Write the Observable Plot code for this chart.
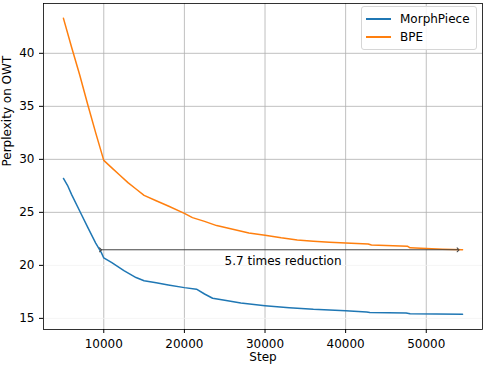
<!DOCTYPE html>
<html><head><meta charset="utf-8">
<script src="https://cdn.jsdelivr.net/npm/d3@7"></script>
<script src="https://cdn.jsdelivr.net/npm/@observablehq/plot@0.6"></script>
<style>
body{margin:0;background:#fff;font-family:"DejaVu Sans",sans-serif;}
#wrap{position:relative;width:484px;height:366px;}
.legend{position:absolute;left:361px;top:6px;width:114px;height:42px;border:1px solid #d6d6d6;border-radius:3px;background:rgba(255,255,255,0.85);font-size:12px;font-family:"DejaVu Sans",sans-serif;color:#000;}
.legend .row{position:absolute;left:4px;height:14px;display:flex;align-items:center;}
.legend .sw{width:25px;height:2px;margin-right:9px;}
</style></head><body><div id="wrap"></div>
<script>
const seriesNames = ["MorphPiece", "BPE"];
const seriesColors = ["#1f77b4", "#ff7f0e"];

const morphSteps = [5000, 5500, 6000, 7000, 8000, 9000, 9700, 10000, 11000, 12500, 14000, 15000, 16500, 18000, 20000, 21500, 22500, 23500, 25000, 27000, 30000, 33000, 36000, 40000, 42600, 43000, 47500, 48000, 54500];
const morphPpl  = [28.2, 27.55, 26.7, 25.15, 23.6, 22.1, 21.2, 20.7, 20.25, 19.5, 18.85, 18.55, 18.35, 18.15, 17.9, 17.75, 17.3, 16.9, 16.7, 16.45, 16.2, 16.0, 15.85, 15.73, 15.6, 15.55, 15.5, 15.43, 15.38];

const bpeSteps = [5000, 6000, 7000, 8000, 9000, 10000, 11000, 12000, 13000, 14000, 15000, 16500, 18000, 20000, 21000, 22500, 24000, 26000, 28000, 30000, 32000, 34000, 36000, 38000, 40000, 42800, 43200, 45000, 47700, 48000, 50000, 52000, 54500];
const bpePpl   = [43.3, 40.6, 38.0, 35.2, 32.5, 29.9, 29.2, 28.5, 27.8, 27.2, 26.6, 26.1, 25.6, 24.9, 24.5, 24.15, 23.75, 23.4, 23.05, 22.85, 22.6, 22.4, 22.28, 22.18, 22.1, 22.02, 21.92, 21.87, 21.8, 21.65, 21.6, 21.53, 21.47];

const xTicks = [10000, 20000, 30000, 40000, 50000];
const yTicks = [15, 20, 25, 30, 35, 40];
const yGridStrong = [25, 30, 35, 40];
const yGridFaint = [15, 20];

const arrowFrom = [9600, 21.47];
const arrowTo = [53950, 21.47];
const annotText = "5.7 times reduction";
const annotPos = [32240, 20.44];

const xLabel = "Step";
const yLabel = "Perplexity on OWT";

const morph = morphSteps.map((s, i) => ({step: s, ppl: morphPpl[i]}));
const bpe = bpeSteps.map((s, i) => ({step: s, ppl: bpePpl[i]}));

const chart = Plot.plot({
  width: 484, height: 366,
  marginLeft: 43, marginRight: 2, marginTop: 3, marginBottom: 37,
  style: {fontFamily: "DejaVu Sans", fontSize: "12px", color: "black", background: "white", overflow: "visible"},
  x: {domain: [2525, 56975], label: null},
  y: {domain: [13.95, 44.7], label: null},
  marks: [
    Plot.ruleX(xTicks, {stroke: "#b0b0b0", strokeWidth: 0.8}),
    Plot.ruleY(yGridFaint, {stroke: "#f3f3f3", strokeWidth: 0.8}),
    Plot.ruleY(yGridStrong, {stroke: "#b0b0b0", strokeWidth: 0.8}),
    Plot.line(morph, {x: "step", y: "ppl", stroke: seriesColors[0], strokeWidth: 1.5}),
    Plot.line(bpe, {x: "step", y: "ppl", stroke: seriesColors[1], strokeWidth: 1.5}),
    Plot.link([{x1: arrowFrom[0], y1: arrowFrom[1], x2: arrowTo[0], y2: arrowTo[1]}],
      {x1: "x1", y1: "y1", x2: "x2", y2: "y2", stroke: "#444", strokeWidth: 1, markerStart: "arrow", markerEnd: "arrow"}),
    Plot.text([annotText], {x: annotPos[0], y: annotPos[1], text: d => d, fontSize: 12, fill: "black"}),
    Plot.axisX({ticks: xTicks, tickSize: 4, tickPadding: 6, tickFormat: d => String(d), label: null}),
    Plot.axisY({ticks: yTicks, tickSize: 4, tickPadding: 5, label: null}),
    Plot.frame({stroke: "black", strokeWidth: 0.8}),
    Plot.text([yLabel], {frameAnchor: "left", dx: -36, rotate: -90, text: d => d, fontSize: 12, fill: "black"}),
    Plot.text([xLabel], {frameAnchor: "bottom", dy: 31, text: d => d, fontSize: 12, fill: "black"})
  ]
});

const wrap = document.getElementById("wrap");
wrap.appendChild(chart);

const legend = d3.select(wrap).append("div").attr("class", "legend");
seriesNames.forEach((name, i) => {
  const row = legend.append("div").attr("class", "row").style("top", (5 + i * 18.4) + "px");
  row.append("div").attr("class", "sw").style("background", seriesColors[i]);
  row.append("span").text(name);
});
</script>
</body></html>
